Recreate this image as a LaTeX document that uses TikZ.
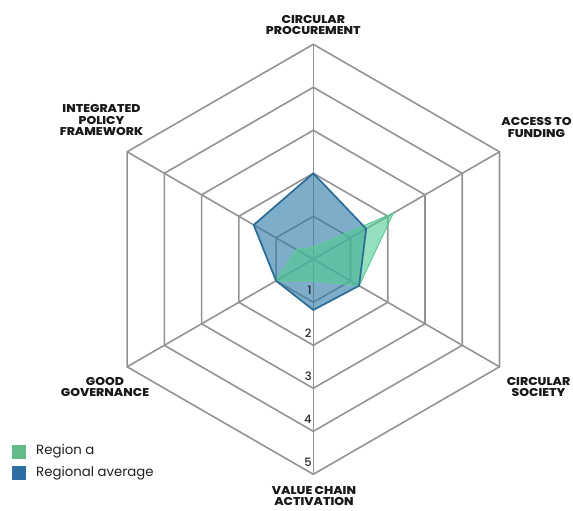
\documentclass[tikz,border=0pt]{standalone}
\usepackage{fontspec}
\setmainfont{Poppins}
\newfontfamily\labfont{Poppins ExtraBold}[FakeStretch=1.1]
\newfontfamily\medfont{Poppins Medium}
\definecolor{gridc}{HTML}{939393}
\definecolor{bluef}{HTML}{2F7BAA}
\definecolor{blued}{HTML}{2A6C95}
\definecolor{greenf}{HTML}{4FCB8F}
\definecolor{greend}{HTML}{5CCB98}
\definecolor{legg}{HTML}{63BB8A}
\definecolor{legb}{HTML}{2F6EA5}
\tikzset{
  axlabel/.style={font=\labfont\fontsize{11.3}{11.5}\selectfont, align=center, inner sep=0pt, text=black!90},
  ringnum/.style={font=\medfont\fontsize{11.5}{12}\selectfont, inner sep=0pt, anchor=east, text=black!85},
  gridline/.style={draw=gridc, line width=1.6pt, line join=round},
  legtext/.style={font=\fontsize{13.3}{15}\selectfont, anchor=west, inner sep=0pt, text=black!88},
}
\begin{document}
\begin{tikzpicture}[x=1pt,y=1pt]
\useasboundingbox (0,0) rectangle (573,-511);
\begin{scope}[shift={(313.3,-259.3)}]
  % grid rings
  \foreach \k in {1,...,5} {
    \draw[gridline] (90:43*\k) -- (30:43*\k) -- (-30:43*\k) -- (-90:43*\k) -- (-150:43*\k) -- (150:43*\k) -- cycle;
  }
  \coordinate (c) at (0,0);
  \foreach \a in {90,30,-30,-90,-150,150} {
    \draw[gridline] (c) -- (\a:215);
  }
  % regional average
  \fill[bluef, fill opacity=0.62] (90:2*43) -- (30:1.42*43) -- (-30:1.23*43) -- (-90:1.18*43) -- (-150:1.0*43) -- (150:1.6*43) -- cycle;
  % region a
  \fill[greenf, fill opacity=0.6] (90:0.28*43) -- (30:2.15*43) -- (-30:1.23*43) -- (-90:0.5*43) -- (-150:1.0*43) -- (150:0.45*43) -- cycle;
  \draw[greend, line width=1pt, line join=round] (90:0.28*43) -- (30:2.15*43) -- (-30:1.23*43) -- (-90:0.5*43) -- (-150:1.0*43) -- (150:0.45*43) -- cycle;
  \draw[blued, line width=1.7pt, line join=round] (90:2*43) -- (30:1.42*43) -- (-30:1.23*43) -- (-90:1.18*43) -- (-150:1.0*43) -- (150:1.6*43) -- cycle;
  % ring numbers
  \foreach \k in {1,...,5} {
    \node[ringnum] (n\k) at (-1.5,-43*\k+12) {\k};
  }
\end{scope}
% axis labels
\node[axlabel] (lcp) at (313.3,-25) {CIRCULAR\\PROCUREMENT};
\node[axlabel] (laf) at (536.5,-127.5) {ACCESS TO\\FUNDING};
\node[axlabel] (lcs) at (538.5,-387) {CIRCULAR\\SOCIETY};
\node[axlabel] (lva) at (314,-496) {VALUE CHAIN\\ACTIVATION};
\node[axlabel] (lgg) at (105,-387) {GOOD\\GOVERNANCE};
\node[axlabel] (lip) at (101.5,-120.5) {INTEGRATED\\POLICY\\FRAMEWORK};
% legend
\fill[legg] (12,-445) rectangle (26,-459);
\node[legtext] (lra) at (36,-451.5) {Region a};
\fill[legb] (12,-466) rectangle (26,-480);
\node[legtext] (lrb) at (36,-473) {Regional average};
\end{tikzpicture}
\end{document}
